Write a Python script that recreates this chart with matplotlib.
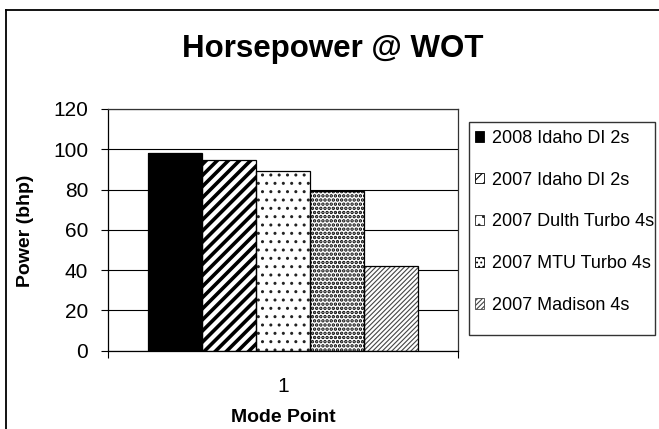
import matplotlib
matplotlib.use("Agg")
import matplotlib as mpl
import matplotlib.pyplot as plt
from matplotlib.patches import Rectangle
from matplotlib.lines import Line2D

# data
categories = ["1"]
series = ["2008 Idaho DI 2s", "2007 Idaho DI 2s", "2007 Dulth Turbo 4s",
          "2007 MTU Turbo 4s", "2007 Madison 4s"]
values = [98, 94.7, 89.4, 79.3, 42]
yticks = [0, 20, 40, 60, 80, 100, 120]

# fill style of each series: (face, hatch, hatch colour, hatch linewidth)
styles = [
    ("black", "", "black", 1.0),
    ("white", "///", "black", 2.6),
    ("white", "..", "#222222", 1.0),
    ("white", "....", "black", 1.7),
    ("white", "///////", "#444444", 0.8),
]

mpl.rc("font", family=["Liberation Sans", "DejaVu Sans"])

W, H = 659, 429
fig = plt.figure(figsize=(W / 100, H / 100), dpi=100)
fig.patch.set_facecolor("white")

# plot area in pixels: left 107.5, right 458, top 109, bottom 350.7
ax = fig.add_axes([107.5 / W, 1 - 350.7 / H, (458 - 107.5) / W, (350.7 - 109) / H])

width = 0.154
x0 = 1 - width * (len(series) - 1) / 2
handles = []
for i, (name, v) in enumerate(zip(series, values)):
    face, hatch, hcol, hlw = styles[i]
    x = x0 + i * width
    mpl.rcParams["hatch.linewidth"] = hlw
    ax.bar(x, v, width, color=face, edgecolor=hcol, hatch=hatch,
           linewidth=0, zorder=2)
    ax.bar(x, v, width, fill=False, edgecolor="black", linewidth=0.9, zorder=3)
    handles.append(Rectangle((0, 0), 1, 1, facecolor=face, edgecolor=hcol,
                             hatch=hatch, linewidth=0.6, label=name))

ax.set_xlim(0.5, 1.5)
ax.set_ylim(0, 120)
ax.set_yticks(yticks)
ax.yaxis.grid(True, color="black", linewidth=0.8, zorder=0)
ax.set_axisbelow(True)
for s in ax.spines.values():
    s.set_linewidth(0.9)
    s.set_color("black")
ax.spines["top"].set_color("#333333")
ax.spines["right"].set_color("#333333")

ax.tick_params(axis="y", direction="out", length=5, width=0.8,
               labelsize=15, pad=9)
ax.set_xticks([0.5, 1.5], ["", ""])
ax.set_xticks([1], categories, minor=True)
ax.tick_params(axis="x", which="major", direction="out", length=5, width=0.8)
ax.tick_params(axis="x", which="minor", length=0, labelsize=15, pad=19)

fig.text(332.5 / W, 1 - 57 / H, "Horsepower @ WOT", ha="center",
         va="baseline", fontsize=22.5, fontweight="bold")
fig.text(26 / W, 1 - 231 / H, "Power (bhp)", rotation=90, ha="center",
         va="center", fontsize=14, fontweight="bold")
fig.text(283 / W, 1 - 422 / H, "Mode Point", ha="center", va="baseline",
         fontsize=14, fontweight="bold")

# legend box
fig.patches.append(Rectangle((469 / W, 1 - 335 / H), (655 - 469) / W,
                             (335 - 122) / H, transform=fig.transFigure,
                             fill=False, edgecolor="#333333", linewidth=1.0))
leg = fig.legend(handles=handles, loc="upper left",
                 bbox_to_anchor=(475 / W, 1 - 130 / H), frameon=False,
                 fontsize=13, handlelength=0.5, handleheight=0.5,
                 handletextpad=0.45, labelspacing=1.37, borderpad=0,
                 borderaxespad=0)

# outer chart border (left and top edges visible)
fig.add_artist(Line2D([5.5 / W, 5.5 / W], [0, 1 - 9.5 / H],
                      transform=fig.transFigure, color="black", linewidth=1.3))
fig.add_artist(Line2D([5.5 / W, 1.0], [1 - 9.5 / H, 1 - 9.5 / H],
                      transform=fig.transFigure, color="black", linewidth=1.3))

fig.savefig("out.png", dpi=100)
